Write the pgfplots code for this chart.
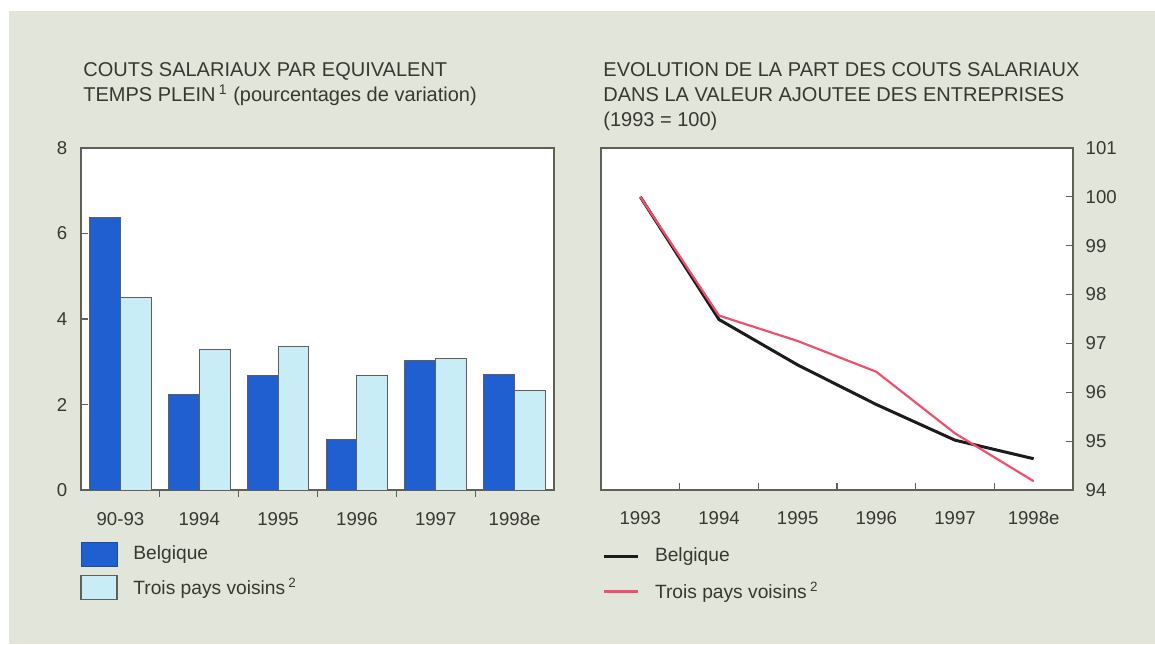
\documentclass[border=0pt]{standalone}
\usepackage{fontspec}
\setmainfont{Liberation Sans}
\usepackage{pgfplots}
\pgfplotsset{compat=1.18}
\definecolor{bg}{HTML}{E2E5D9}
\definecolor{darkblue}{HTML}{1F5FCF}
\definecolor{lightblue}{HTML}{C8EDF6}
\definecolor{frame}{HTML}{5F605A}
\definecolor{txt}{HTML}{383833}
\definecolor{redline}{HTML}{F0506E}
\definecolor{blackline}{HTML}{1C1C1C}
\newcommand{\tfont}{\fontsize{10}{12.5}\selectfont}
\newcommand{\lfont}{\fontsize{9.6}{12}\selectfont}
\newcommand{\kfont}{\fontsize{9.3}{11}\selectfont}
\pgfplotsset{
  common/.style={
    anchor=south west, scale only axis,
    axis background/.style={fill=white},
    axis line style={draw=frame, line width=0.7pt},
    xmin=-0.5, xmax=5.5,
    xtick={0,1,2,3,4,5},
    xtick style={draw=none},
    extra x ticks={0.5,1.5,2.5,3.5,4.5},
    extra x tick labels={},
    extra x tick style={xtick style={draw=frame, line width=0.6pt}, major tick length=3.5pt},
    xtick pos=bottom,
    tick align=inside,
    major tick length=3.5pt,
    ytick style={draw=frame, line width=0.6pt},
    tick label style={font=\kfont, text=txt},
    /pgf/number format/assume math mode=true,
    legend cell align=left,
    legend style={draw=none, fill=none, at={(0,0)}, anchor=north west,
      font=\lfont, text=txt, inner sep=0pt,
      nodes={inner sep=0pt},
      /tikz/every odd column/.append style={column sep=7.8pt}},
  }
}
\begin{document}
\begin{tikzpicture}[x=1pt,y=1pt]
\fill[white] (0,0) rectangle (577.5,322);
\fill[bg] (4.5,0) rectangle (577.5,316.5);
% titles
\node[anchor=base west, inner sep=0, font=\tfont, text=txt] at (41.5,283.6) {COUTS SALARIAUX PAR EQUIVALENT};
\node[anchor=base west, inner sep=0, font=\tfont, text=txt] at (41.5,271.1) {TEMPS PLEIN\,\textsuperscript{1} (pourcentages de variation)};
\node[anchor=base west, inner sep=0, font=\tfont, text=txt] at (301.5,283.6) {EVOLUTION DE LA PART DES COUTS SALARIAUX};
\node[anchor=base west, inner sep=0, font=\tfont, text=txt] at (301.5,271.1) {DANS LA VALEUR AJOUTEE DES ENTREPRISES};
\node[anchor=base west, inner sep=0, font=\tfont, text=txt] at (301.5,258.6) {(1993 = 100)};

\begin{axis}[common,
  at={(40.5pt,77pt)}, width=236.5pt, height=171pt,
  ymin=0, ymax=8, ytick={0,2,4,6,8},
  ytick pos=left,
  yticklabel style={xshift=-3.3pt},
  xticklabel style={yshift=-4.3pt},
  xticklabels={90-93,1994,1995,1996,1997,1998e},
  ybar=0pt, bar width=15.4pt,
  legend style={xshift=-0.5pt, yshift=-25.8pt, row sep=4pt},
]
\addplot[fill=darkblue, draw=frame, line width=0.5pt,
  legend image code/.code={\draw[fill=darkblue, draw=darkblue!80!black, line width=0.5pt] (0pt,-6pt) rectangle (18pt,6pt);}]
  coordinates {(0,6.37) (1,2.24) (2,2.69) (3,1.19) (4,3.04) (5,2.71)};
\addlegendentry{Belgique}
\addplot[fill=lightblue, draw=frame, line width=0.5pt,
  legend image code/.code={\draw[fill=lightblue, draw=frame, line width=0.7pt] (0pt,-6pt) rectangle (18pt,6pt);}]
  coordinates {(0,4.50) (1,3.28) (2,3.35) (3,2.69) (4,3.08) (5,2.33)};
\addlegendentry{Trois pays voisins\,\textsuperscript{2}}
\end{axis}

\begin{axis}[common,
  at={(300.5pt,77pt)}, width=236pt, height=171pt,
  ymin=94, ymax=101, ytick={94,95,96,97,98,99,100,101},
  ytick pos=right, yticklabel pos=right,
  yticklabel style={xshift=2.8pt},
  xticklabel style={yshift=-7.3pt},
  xticklabels={1993,1994,1995,1996,1997,1998e},
  legend style={xshift=0.5pt, yshift=-28.8pt, row sep=8.5pt},
]
\addplot[blackline, line width=1.5pt,
  legend image code/.code={\draw[blackline, line width=1.5pt] (0pt,0pt) -- (17pt,0pt);}]
  coordinates {(0,100) (1,97.49) (2,96.56) (3,95.75) (4,95.02) (5,94.64)};
\addlegendentry{Belgique}
\addplot[redline, line width=1.1pt,
  legend image code/.code={\draw[redline, line width=1.3pt] (0pt,0pt) -- (17pt,0pt);}]
  coordinates {(0,100) (1,97.57) (2,97.05) (3,96.42) (4,95.16) (5,94.18)};
\addlegendentry{Trois pays voisins\,\textsuperscript{2}}
\end{axis}
\pgfresetboundingbox
\useasboundingbox (0,0) rectangle (577.5,322);
\end{tikzpicture}
\end{document}
